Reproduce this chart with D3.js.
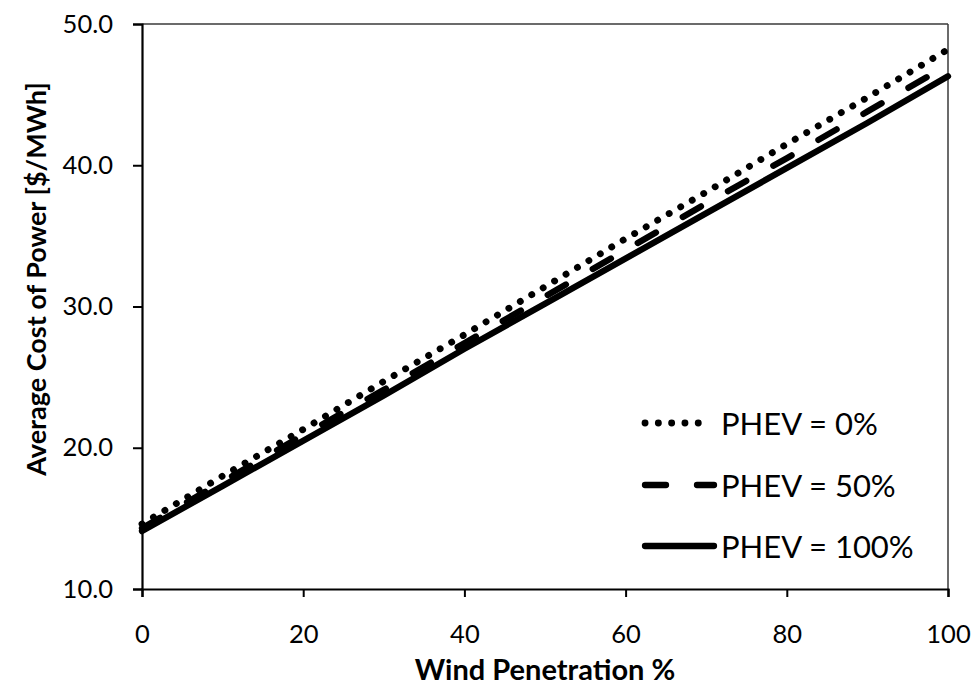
<!DOCTYPE html>
<html>
<head>
<meta charset="utf-8">
<script src="https://cdn.jsdelivr.net/npm/d3@7"></script>
<style>
  html, body { margin: 0; padding: 0; background: #fff; }
  svg { display: block; font-family: Lato, "Noto Sans", sans-serif; }
</style>
</head>
<body>
<svg id="chart" width="973" height="687"></svg>
<script>
// ---- data ----
const windPenetration = [0, 10, 20, 30, 40, 50, 60, 70, 80, 90, 100];
const phev0   = [14.6, 18.0, 21.3, 24.7, 28.0, 31.4, 34.8, 38.1, 41.5, 44.8, 48.2];
const phev50  = [14.3, 17.6, 20.9, 24.1, 27.4, 30.7, 34.0, 37.3, 40.5, 43.8, 47.1];
const phev100 = [14.1, 17.3, 20.5, 23.7, 27.0, 30.2, 33.4, 36.6, 39.8, 43.0, 46.3];
const seriesNames = ["PHEV = 0%", "PHEV = 50%", "PHEV = 100%"];
const xTicks = [0, 20, 40, 60, 80, 100];
const yTicks = [10, 20, 30, 40, 50];
const xTitle = "Wind Penetration %";
const yTitle = "Average Cost of Power [$/MWh]";

// ---- layout ----
const svg = d3.select("#chart");
const plot = { left: 142, right: 948, top: 24, bottom: 589 };
const x = d3.scaleLinear().domain([0, 100]).range([plot.left, plot.right]);
const y = d3.scaleLinear().domain([10, 50]).range([plot.bottom, plot.top]);

// frame (top/right)
svg.append("line").attr("x1", plot.left).attr("x2", plot.right)
  .attr("y1", plot.top).attr("y2", plot.top)
  .attr("stroke", "#3a3a3a").attr("stroke-width", 1.5);
svg.append("line").attr("x1", plot.right).attr("x2", plot.right)
  .attr("y1", plot.top).attr("y2", plot.bottom)
  .attr("stroke", "#3a3a3a").attr("stroke-width", 1.5);

// series styles
const styles = [
  { width: 6.8, dash: "0.1 13.2", cap: "round" },
  { width: 6.3, dash: "21 31", cap: "round" },
  { width: 6.3, dash: null, cap: "round" }
];
const seriesData = [phev0, phev50, phev100];

const line = d3.line()
  .x((d, i) => x(windPenetration[i]))
  .y(d => y(d));

// draw solid first, then dashed, then dotted
[2, 1, 0].forEach(k => {
  const p = svg.append("path")
    .datum(seriesData[k])
    .attr("d", line)
    .attr("fill", "none")
    .attr("stroke", "#000")
    .attr("stroke-width", styles[k].width)
    .attr("stroke-linecap", styles[k].cap)
    .attr("stroke-linejoin", "round");
  if (styles[k].dash) p.attr("stroke-dasharray", styles[k].dash);
});

// axes
const xAxis = d3.axisBottom(x).tickValues(xTicks).tickSize(8).tickPadding(36)
  .tickFormat(d3.format("d"));
const gx = svg.append("g").attr("transform", `translate(0,${plot.bottom})`).call(xAxis);
gx.select(".domain").attr("stroke", "#000").attr("stroke-width", 2.2);
gx.selectAll(".tick line").attr("stroke", "#000").attr("stroke-width", 2);
gx.selectAll(".tick text").attr("font-size", 25.5).attr("fill", "#000")
  .attr("font-family", "Lato, sans-serif").attr("dy", "0")
  .attr("y", 643 - plot.bottom);

const yAxis = d3.axisLeft(y).tickValues(yTicks).tickSize(9).tickPadding(20)
  .tickFormat(d3.format(".1f"));
const gy = svg.append("g").attr("transform", `translate(${plot.left},0)`).call(yAxis);
gy.select(".domain").attr("stroke", "#000").attr("stroke-width", 2.2);
gy.selectAll(".tick line").attr("stroke", "#000").attr("stroke-width", 2);
gy.selectAll(".tick text").attr("font-size", 25.5).attr("fill", "#000")
  .attr("font-family", "Lato, sans-serif").attr("x", 113 - plot.left);

// axis titles
svg.append("text")
  .attr("x", (plot.left + plot.right) / 2).attr("y", 680)
  .attr("text-anchor", "middle")
  .attr("font-size", 29).attr("font-weight", "bold")
  .text(xTitle);
svg.append("text")
  .attr("transform", "translate(46,279) rotate(-90)")
  .attr("text-anchor", "middle")
  .attr("font-size", 27).attr("font-weight", "bold")
  .text(yTitle);

// legend
const legendRows = [435, 497, 558];
const legend = svg.append("g");
seriesNames.forEach((name, k) => {
  const cy = legendRows[k] - 12;
  const l = legend.append("line")
    .attr("x1", 645).attr("x2", k === 0 ? 711 : 714)
    .attr("y1", cy).attr("y2", cy)
    .attr("stroke", "#000").attr("stroke-width", styles[k].width)
    .attr("stroke-linecap", styles[k].cap);
  if (styles[k].dash) l.attr("stroke-dasharray", styles[k].dash);
  legend.append("text")
    .attr("x", 721).attr("y", legendRows[k])
    .attr("font-size", 31)
    .attr("fill", "#000")
    .text(name);
});
</script>
</body>
</html>
